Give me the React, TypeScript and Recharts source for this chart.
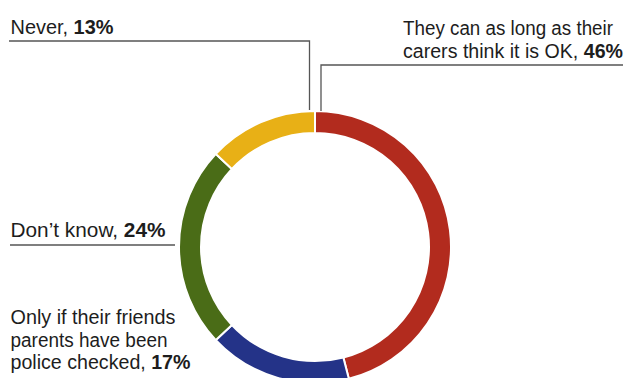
import React from 'react';
import { PieChart, Pie, Cell } from 'recharts';

// Survey answers, clockwise from 12 o'clock
const categories = [
  'They can as long as their carers think it is OK',
  'Only if their friends parents have been police checked',
  'Don’t know',
  'Never',
];
const values = [46, 17, 24, 13];
const colors = ['#b22b1e', '#243388', '#4a6c17', '#e8b016'];

// wrapped label lines (value is appended in bold on the last line)
const labelLines = [
  ['They can as long as their', 'carers think it is OK, '],
  ['Only if their friends', 'parents have been', 'police checked, '],
  ['Don’t know, '],
  ['Never, '],
];

const data = categories.map((name, i) => ({ name, value: values[i] }));

const FONT = '"Liberation Sans", Arial, sans-serif';
const FONT_SIZE = 20;
const LINE_H = 22.7;

// label layout, relative to the pie centre; w = rendered width of each line
const labelPos = [
  { dx: 88, dy: -212, w: [210, 220] },
  { dx: -304.5, dy: 77, w: [165, 157, 180] },
  { dx: -304.5, dy: -9.7, w: [155] },
  { dx: -304.5, dy: -213, w: [103] },
];

const renderLabel = (props: any) => {
  const { cx, cy, outerRadius, index, value } = props;
  const pos = labelPos[index];
  const lines = labelLines[index];
  const x = cx + pos.dx;
  const y0 = cy + pos.dy;

  // leader lines
  let path = '';
  if (index === 0) {
    path = `M${cx + 6},${cy - outerRadius} L${cx + 6},${cy - 182} L${cx + 308},${cy - 182}`;
  } else if (index === 3) {
    path = `M${cx - 5.5},${cy - outerRadius - 1} L${cx - 5.5},${cy - 206} L${cx - 306},${cy - 206}`;
  } else if (index === 2) {
    path = `M${cx - 305},${cy - 2} L${cx - 140},${cy - 2}`;
  }

  return (
    <g key={`lbl-${index}`}>
      {path && <path d={path} fill="none" stroke="#555" strokeWidth={1.3} />}
      {lines.map((ln, i) => (
        <text
          key={i}
          x={x}
          y={y0 + i * LINE_H}
          fontFamily={FONT}
          fontSize={FONT_SIZE}
          fill="#1d1d1d"
          textAnchor="start"
          textLength={pos.w[i]}
          lengthAdjust="spacingAndGlyphs"
        >
          {ln}
          {i === lines.length - 1 && <tspan fontWeight="bold">{value}%</tspan>}
        </text>
      ))}
    </g>
  );
};

const App: React.FC = () => {
  return (
    <div style={{ position: 'absolute', left: 0, top: 0, width: 627, height: 378, background: '#fff' }}>
      <PieChart width={627} height={378} margin={{ top: 0, right: 0, bottom: 0, left: 0 }}>
        <Pie
          data={data}
          dataKey="value"
          nameKey="name"
          cx={315}
          cy={247}
          innerRadius={114}
          outerRadius={136}
          startAngle={90}
          endAngle={-270}
          stroke="#fff"
          strokeWidth={2}
          label={renderLabel}
          labelLine={false}
          isAnimationActive={false}
        >
          {data.map((d, i) => (
            <Cell key={d.name} fill={colors[i]} />
          ))}
        </Pie>
      </PieChart>
    </div>
  );
};

export default App;
